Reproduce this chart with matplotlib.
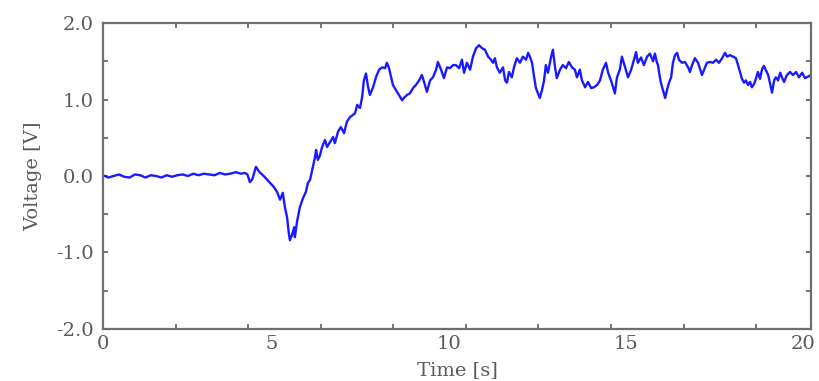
import numpy as np
import matplotlib
matplotlib.use("Agg")
import matplotlib.pyplot as plt
from matplotlib.ticker import FixedLocator, MultipleLocator
from matplotlib.transforms import ScaledTranslation

# voltage trace
flat_t = [0.0, 0.15, 0.3, 0.45, 0.6, 0.75, 0.9, 1.05, 1.2, 1.35, 1.5, 1.65, 1.8, 1.95,
          2.1, 2.25, 2.4, 2.55, 2.7, 2.85, 3.0, 3.15, 3.3, 3.45, 3.6, 3.75, 3.9]
flat_v = [0.01, -0.02, 0.0, 0.02, -0.01, -0.02, 0.02, 0.01, -0.02, 0.01, 0.0, -0.02, 0.01, -0.01,
          0.01, 0.02, 0.0, 0.03, 0.01, 0.03, 0.02, 0.01, 0.04, 0.02, 0.03, 0.05, 0.03]

dip_t = [4.01, 4.08, 4.15, 4.22, 4.32, 4.42, 4.52, 4.62, 4.72, 4.82, 4.92, 5.00, 5.08,
         5.14, 5.20, 5.25, 5.28, 5.34, 5.40, 5.42, 5.48, 5.56, 5.65, 5.73, 5.79, 5.85,
         5.93, 5.99, 6.02, 6.07, 6.13, 6.19, 6.27, 6.33, 6.41, 6.50, 6.55, 6.64, 6.72,
         6.81, 6.89, 6.98]
dip_v = [0.04, 0.02, -0.08, -0.04, 0.12, 0.05, 0.01, -0.04, -0.09, -0.14, -0.21, -0.31, -0.22,
         -0.41, -0.54, -0.75, -0.84, -0.77, -0.67, -0.80, -0.60, -0.41, -0.29, -0.21, -0.09, -0.05,
         0.12, 0.25, 0.34, 0.21, 0.27, 0.38, 0.47, 0.38, 0.44, 0.51, 0.43, 0.58, 0.64,
         0.56, 0.71, 0.77]

high_t = [7.12, 7.18, 7.26, 7.32, 7.37, 7.43, 7.49, 7.54, 7.63, 7.71, 7.80, 7.88, 7.97,
          8.02, 8.08, 8.14, 8.19, 8.28, 8.36, 8.45, 8.50, 8.59, 8.67, 8.76, 8.84, 8.93,
          9.01, 9.07, 9.15, 9.24, 9.32, 9.41, 9.46, 9.55, 9.63, 9.72, 9.80, 9.89, 9.97,
          10.06, 10.14, 10.20, 10.28, 10.37, 10.45, 10.54, 10.62, 10.71, 10.79, 10.88, 10.96,
          11.02, 11.07, 11.13, 11.21, 11.30, 11.36, 11.41, 11.47, 11.55, 11.61, 11.69, 11.78,
          11.86, 11.95, 12.01, 12.06, 12.12, 12.18, 12.23, 12.29, 12.34, 12.40, 12.46, 12.51,
          12.57, 12.66, 12.71, 12.77, 12.82, 12.91, 12.99, 13.08, 13.16, 13.25, 13.33, 13.39,
          13.47, 13.53, 13.62, 13.70, 13.79, 13.87, 13.96, 14.04, 14.12, 14.21, 14.27, 14.35,
          14.41, 14.46, 14.52, 14.60, 14.66, 14.75, 14.83, 14.92, 15.00, 15.06, 15.11, 15.20,
          15.28, 15.37, 15.45, 15.54, 15.59, 15.65, 15.68, 15.71, 15.76, 15.82, 15.88, 15.93,
          15.99, 16.05, 16.10, 16.16, 16.22, 16.27, 16.36, 16.44, 16.53, 16.58, 16.64, 16.72,
          16.81, 16.86, 16.92, 16.98, 17.06, 17.15, 17.23, 17.32, 17.40, 17.49, 17.57, 17.63,
          17.71, 17.80, 17.88, 17.94, 18.00, 18.05, 18.11, 18.16, 18.22, 18.28, 18.33, 18.39,
          18.45, 18.50, 18.56, 18.62, 18.67, 18.73, 18.79, 18.84, 18.90, 18.96, 19.01, 19.07,
          19.13, 19.18, 19.24, 19.32, 19.41, 19.49, 19.58, 19.66, 19.75, 19.83, 19.92, 20.00]
high_v = [0.82, 0.93, 0.89, 1.03, 1.25, 1.34, 1.16, 1.06, 1.16, 1.29, 1.39, 1.42, 1.41,
          1.48, 1.41, 1.29, 1.19, 1.12, 1.06, 0.99, 1.02, 1.06, 1.08, 1.15, 1.19, 1.25,
          1.32, 1.23, 1.10, 1.25, 1.29, 1.39, 1.49, 1.39, 1.28, 1.42, 1.41, 1.45, 1.45,
          1.41, 1.52, 1.35, 1.48, 1.39, 1.56, 1.67, 1.71, 1.67, 1.65, 1.56, 1.52,
          1.48, 1.54, 1.42, 1.35, 1.42, 1.25, 1.22, 1.36, 1.29, 1.42, 1.54, 1.48,
          1.56, 1.52, 1.61, 1.56, 1.48, 1.29, 1.15, 1.08, 1.02, 1.12, 1.25, 1.45,
          1.35, 1.56, 1.65, 1.42, 1.28, 1.39, 1.45, 1.41, 1.49, 1.42, 1.39, 1.29,
          1.39, 1.25, 1.16, 1.23, 1.15, 1.16, 1.19, 1.25, 1.39, 1.48, 1.35, 1.25,
          1.16, 1.08, 1.29, 1.39, 1.56, 1.42, 1.29, 1.39, 1.52, 1.62, 1.48, 1.55,
          1.45, 1.56, 1.60, 1.50, 1.60, 1.48, 1.45, 1.35, 1.22, 1.12, 1.02, 1.12,
          1.22, 1.29, 1.48, 1.58, 1.61, 1.52, 1.48, 1.49, 1.42, 1.36, 1.45, 1.54,
          1.48, 1.41, 1.32, 1.39, 1.48, 1.49, 1.48, 1.52, 1.48, 1.54, 1.61, 1.56,
          1.58, 1.56, 1.54, 1.45, 1.35, 1.27, 1.22, 1.25, 1.19, 1.23, 1.16, 1.20,
          1.28, 1.36, 1.27, 1.40, 1.44, 1.38, 1.32, 1.22, 1.09, 1.25, 1.29, 1.25,
          1.35, 1.29, 1.23, 1.32, 1.36, 1.32, 1.36, 1.29, 1.35, 1.28, 1.30, 1.32]

time_s = np.array(flat_t + dip_t + high_t)
voltage = np.array(flat_v + dip_v + high_v)

x_labels = [0, 5, 10, 15, 20]
y_labels = [-2.0, -1.0, 0.0, 1.0, 2.0]

gray = "#5a5a5a"
plt.rcParams["font.family"] = "DejaVu Serif"

fig = plt.figure(figsize=(8.2, 3.81), dpi=100)
ax = fig.add_axes([0.1256, 0.1365, 0.8634, 0.8031])

ax.plot(time_s, voltage, color="#1a1aff", linewidth=1.7)

ax.set_xlim(0, 20)
ax.set_ylim(-2, 2)

# labels at 0,5,... but the small marks sit on their own spacing
ax.xaxis.set_major_locator(FixedLocator(x_labels))
ax.set_xticklabels([str(v) for v in x_labels])
ax.xaxis.set_minor_locator(FixedLocator(np.arange(2.05, 20, 2.05)))
ax.set_yticks(y_labels)
ax.set_yticklabels([f"{v:.1f}" for v in y_labels])
ax.yaxis.set_minor_locator(MultipleLocator(0.5))

ax.tick_params(axis="x", which="major", length=0, pad=4, labelsize=14, labelcolor=gray)
ax.tick_params(axis="x", which="minor", direction="in", length=3.5, width=1.2,
               color=gray, top=True, bottom=True)
ax.tick_params(axis="y", which="major", direction="in", length=3.5, width=1.2,
               color=gray, left=True, right=True, pad=7, labelsize=14, labelcolor=gray)
ax.tick_params(axis="y", which="minor", direction="in", length=3.5, width=1.2,
               color=gray, left=True, right=True)

# the reference sets its x labels a little left of the data positions
shift = ScaledTranslation(-6 / 72, 0, fig.dpi_scale_trans)
for lab in ax.get_xticklabels()[1:]:
    lab.set_transform(lab.get_transform() + shift)

for sp in ax.spines.values():
    sp.set_color("#6e6e6e")
    sp.set_linewidth(1.6)

ax.set_xlabel("Time [s]", fontsize=14, color=gray, labelpad=6)
ax.set_ylabel("Voltage [V]", fontsize=14, color=gray, labelpad=10)

fig.savefig("out.png", dpi=100)
